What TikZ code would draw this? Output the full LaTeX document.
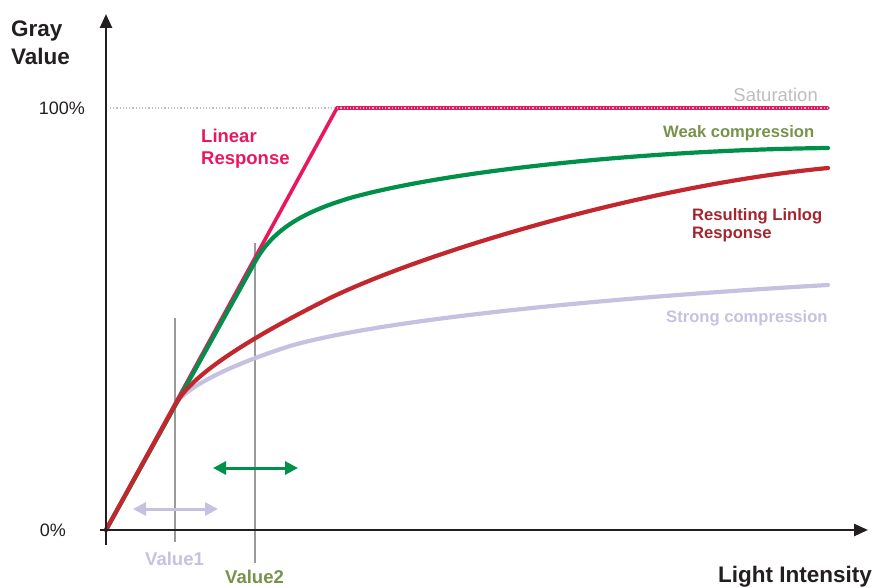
\documentclass[tikz,border=0pt]{standalone}
\usepackage{fontspec}
\setmainfont{Liberation Sans}
\usetikzlibrary{arrows.meta}
\definecolor{axiscol}{HTML}{231F20}
\definecolor{pinkc}{HTML}{EA175F}
\definecolor{greenc}{HTML}{00904A}
\definecolor{redc}{HTML}{C1272D}
\definecolor{purplec}{HTML}{C5C2E1}
\definecolor{olivec}{HTML}{77924A}
\definecolor{darkredc}{HTML}{A3262E}
\definecolor{satgray}{HTML}{BDBDBD}
\definecolor{guidegray}{HTML}{9A9A9A}
\tikzset{
  axisline/.style={draw=axiscol, line width=2.5pt, -{Triangle[length=14pt,width=12pt]}},
  curve/.style={line width=4.2pt, line cap=round, line join=round},
  guide/.style={draw=guidegray, line width=1.2pt},
  dblarrow/.style={line width=3pt, {Triangle[length=13pt,width=13pt]}-{Triangle[length=13pt,width=13pt]}},
  lbl/.style={inner sep=0pt, anchor=base west},
  lblE/.style={inner sep=0pt, anchor=base east},
  boldlbl/.style={lbl, font=\bfseries\fontsize{16.6}{18}\selectfont},
}
\begin{document}
\begin{tikzpicture}[x=1pt,y=-1pt]
\useasboundingbox (0,0) rectangle (883,588);
% named coordinates
\coordinate (O) at (106,530);
\coordinate (Yb) at (106,545);
\coordinate (Yt) at (106,14);
\coordinate (Xb) at (100,530);
\coordinate (Xt) at (868,530);
\coordinate (S0) at (110,108);
\coordinate (S1) at (828,108);
\coordinate (K) at (337,108);
\coordinate (P1) at (175,405);
\coordinate (P2) at (255,262);
\coordinate (V1a) at (175,318);
\coordinate (V1b) at (175,542);
\coordinate (V2a) at (255,243);
\coordinate (V2b) at (255,563);
\coordinate (PA1) at (133,509);
\coordinate (PA2) at (218,509);
\coordinate (GA1) at (213,468);
\coordinate (GA2) at (298,468);

% guide lines
\draw[guide] (V1a) -- (V1b);
\draw[guide] (V2a) -- (V2b);

% linear response
\draw[pinkc, line width=3.6pt, line cap=round, line join=miter] (O) -- (K) -- (S1);
\draw[satgray, line width=1.2pt, dotted] (S0) -- (S1);

% strong compression
\draw[curve, purplec] (O) -- (P1) .. controls (182,392) and (215,370) .. (290,346)
  .. controls (380,320) and (600,298) .. (828,285);
% weak compression
\draw[curve, greenc] (O) -- (P2) .. controls (272,231) and (300,213) .. (350,198)
  .. controls (450,170) and (650,150) .. (828,148);
% resulting linlog
\draw[curve, redc] (O) -- (P1) .. controls (192,374) and (250,338) .. (330,298)
  .. controls (430,250) and (650,185) .. (828,168);

% axes
\draw[axisline] (Yb) -- (Yt);
\draw[axisline] (Xb) -- (Xt);

% double arrows
\draw[dblarrow, purplec] (PA1) -- (PA2);
\draw[dblarrow, greenc] (GA1) -- (GA2);

% labels
\node[lbl, font=\bfseries\fontsize{22.5}{28}\selectfont, text=axiscol] (gray) at (11,37) {Gray};
\node[lbl, font=\bfseries\fontsize{22.5}{28}\selectfont, text=axiscol] (value) at (11,65) {Value};
\node[lblE, font=\fontsize{18}{20}\selectfont, text=axiscol] (p100) at (85,115) {100\%};
\node[lblE, font=\fontsize{18}{20}\selectfont, text=axiscol] (p0) at (66,536) {0\%};
\node[lblE, font=\fontsize{18.5}{20}\selectfont, text=satgray] (sat) at (818,102) {Saturation};
\node[lbl, font=\bfseries\fontsize{18.5}{20}\selectfont, text=pinkc] (lin1) at (201,143) {Linear};
\node[lbl, font=\bfseries\fontsize{18.5}{20}\selectfont, text=pinkc] (lin2) at (201,165) {Response};
\node[boldlbl, text=olivec] (weak) at (663,138) {Weak compression};
\node[boldlbl, text=darkredc] (res1) at (692,220) {Resulting Linlog};
\node[boldlbl, text=darkredc] (res2) at (692,238) {Response};
\node[boldlbl, text=purplec] (strong) at (666,322) {Strong compression};
\node[lbl, font=\bfseries\fontsize{18.5}{20}\selectfont, text=purplec] (val1) at (145,565) {Value1};
\node[lbl, font=\bfseries\fontsize{18.5}{20}\selectfont, text=olivec] (val2) at (225,583) {Value2};
\node[lbl, font=\bfseries\fontsize{22.5}{26}\selectfont, text=axiscol] (light) at (718,582) {Light Intensity};
\end{tikzpicture}
\end{document}
